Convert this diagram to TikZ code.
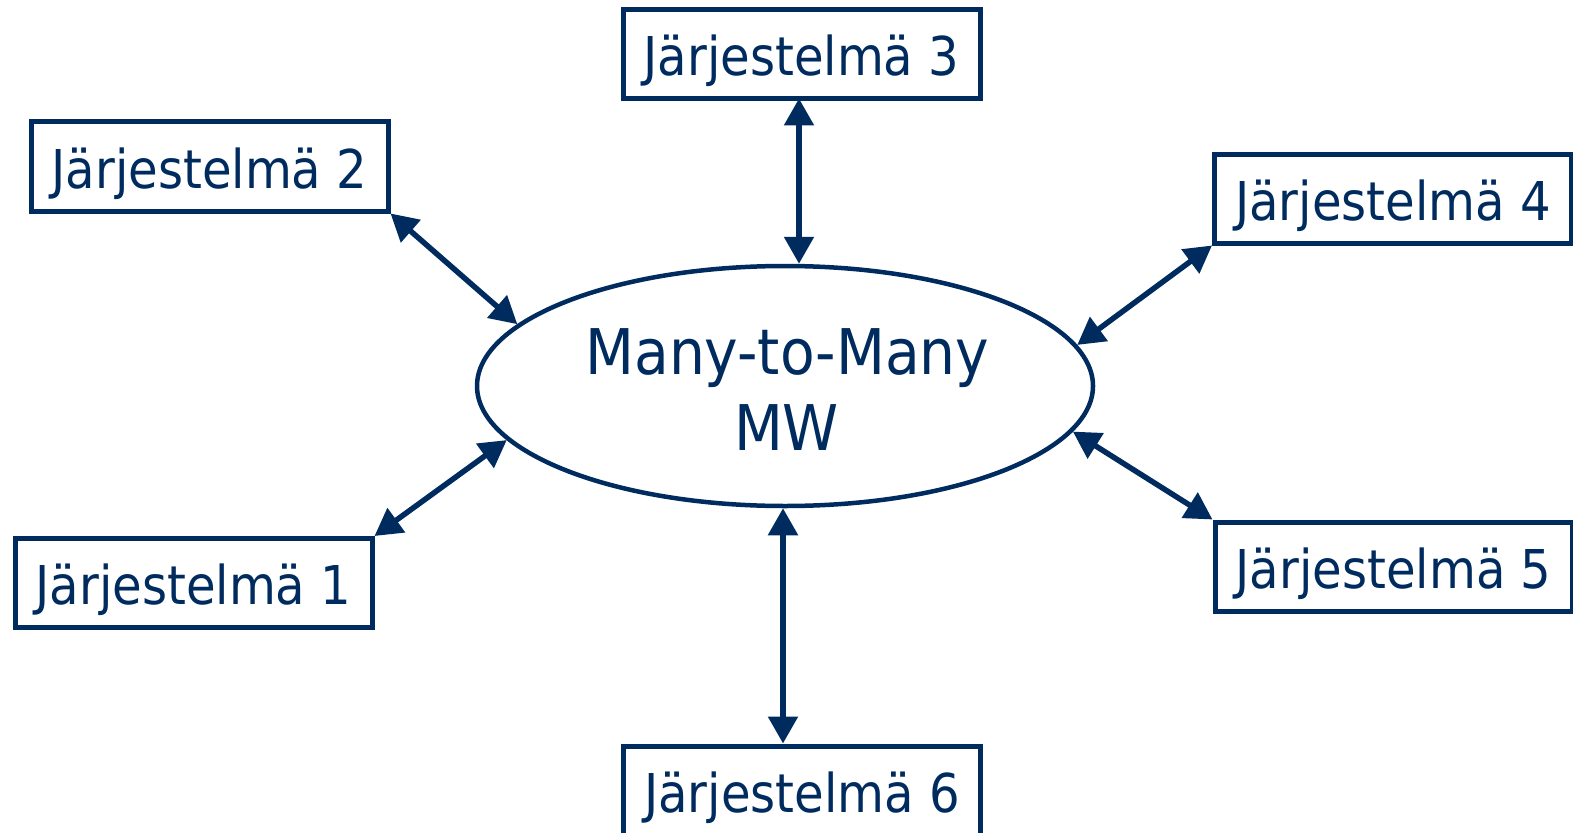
\documentclass[tikz,border=0pt]{standalone}
\usepackage{fontspec}
\setmainfont{DejaVu Sans Condensed}
\usetikzlibrary{arrows.meta,shapes.geometric}
\definecolor{navy}{RGB}{0,43,94}
\tikzset{
  sysbox/.style={draw=navy, line width=5pt, text=navy, fill=white,
    minimum width=357pt, minimum height=89pt, inner sep=0pt,
    text height=43pt, text depth=0pt,
    font=\fontsize{53.5}{64}\selectfont},
  mwell/.style={ellipse, draw=navy, line width=4.5pt, fill=white,
    minimum width=616pt, minimum height=240pt, inner sep=0pt},
  mwtext/.style={text=navy, inner sep=0pt, anchor=base,
    font=\fontsize{63}{76}\selectfont},
  link/.style={draw=navy, line width=5.5pt,
    {Triangle[length=27pt 0 0, width=29pt 0 0]}-{Triangle[length=27pt 0 0, width=29pt 0 0]}}
}
\begin{document}
\begin{tikzpicture}[x=1pt,y=-1pt]
\useasboundingbox (0,0) rectangle (1573,832);
\node[mwell] (mw) at (785,386) {};
\node[mwtext] (mwa) at (787.5,374) {Many-to-Many};
\node[mwtext] (mwb) at (786.5,450) {MW};
\node[sysbox] (j1) at (193.5,583) {Järjestelmä 1};
\node[sysbox] (j2) at (209.5,166.5) {Järjestelmä 2};
\node[sysbox] (j3) at (801.5,54.5) {Järjestelmä 3};
\node[sysbox] (j4) at (1393,198.5) {Järjestelmä 4};
\node[sysbox] (j5) at (1393.5,566.5) {Järjestelmä 5};
\node[sysbox] (j6) at (802,790.5) {Järjestelmä 6};
\draw[link] (j2.south east) -- (mw.167.5);
\draw[link] (j1.north east) -- (mw.191.7);
\draw[link] (j4.south west) -- (mw.8.5);
\draw[link] (j5.north west) -- (mw.351.7);
\draw[link] ([xshift=-2.5pt,yshift=3pt]j3.south) -- ([xshift=-2.5pt]j3.south |- mw.north);
\draw[link] ([xshift=-2pt]mw.south) -- ([xshift=-2pt]mw.south |- j6.north);
\end{tikzpicture}
\end{document}
